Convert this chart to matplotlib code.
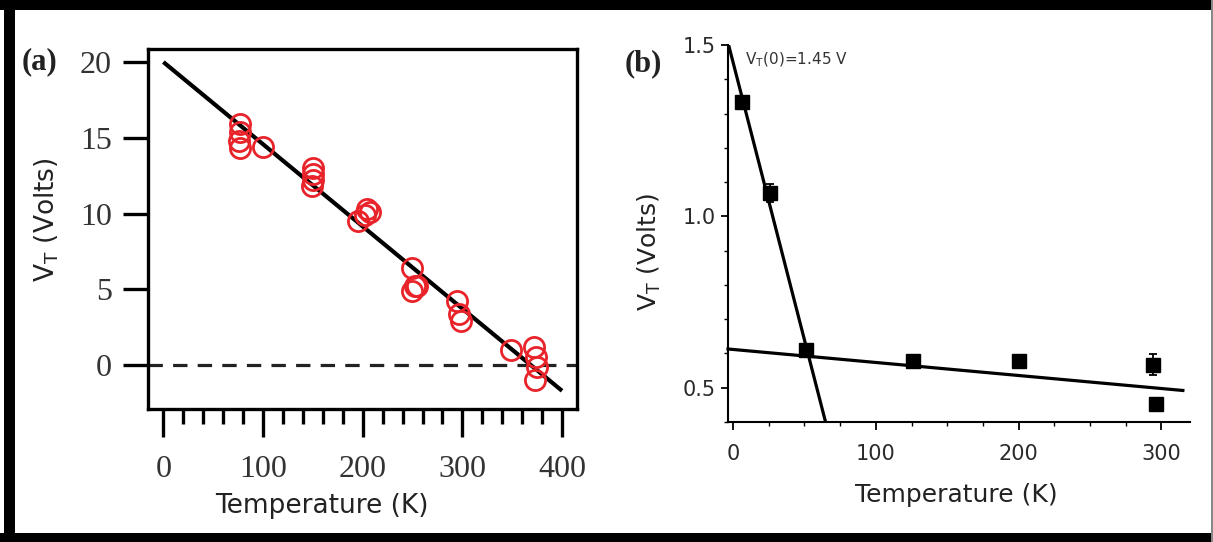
import matplotlib
matplotlib.use("Agg")
import matplotlib.pyplot as plt
from matplotlib.patches import Rectangle
from matplotlib.ticker import MultipleLocator

# ---- data panel (a) ----
temp_a = [77, 77, 76, 77, 100, 150, 150, 150, 149, 204, 207, 202, 195,
          249, 252, 249, 254, 295, 297, 299, 349, 372, 374, 375, 373]
vt_a = [15.9, 15.4, 14.8, 14.3, 14.4, 13.0, 12.6, 12.2, 11.8, 10.3, 10.1, 9.9, 9.5,
        6.4, 5.2, 4.9, 5.2, 4.2, 3.4, 2.9, 1.0, 1.2, 0.5, -0.1, -1.0]
fit_a_T = [0, 400]
fit_a_V = [20.0, -1.7]
xticks_a = [0, 100, 200, 300, 400]
yticks_a = [0, 5, 10, 15, 20]

# ---- data panel (b) ----
temp_b = [6, 26, 51, 126, 200, 294, 296]
vt_b = [1.335, 1.068, 0.609, 0.577, 0.577, 0.567, 0.453]
err_b = [0.015, 0.025, 0.012, 0.012, 0.010, 0.030, 0.0]
fit_b1_T = [-3.5, 70]
fit_b1_V = [1.507, 0.316]
fit_b2_T = [-3.5, 315]
fit_b2_V = [0.613, 0.492]
xticks_b = [0, 100, 200, 300]
yticks_b = [0.5, 1.0, 1.5]

W, H = 1213, 542
fig = plt.figure(figsize=(W / 100, H / 100), dpi=100)

def ax_rect(l, r, t, b):
    return [l / W, 1 - b / H, (r - l) / W, (b - t) / H]

# outer border
fig.patches.append(Rectangle((0, 1 - 10 / H), 1, 10 / H, transform=fig.transFigure,
                             facecolor="black", edgecolor="none"))
fig.patches.append(Rectangle((4 / W, 0), 11 / W, 1, transform=fig.transFigure,
                             facecolor="black", edgecolor="none"))
fig.patches.append(Rectangle((0, 0), 1, 9 / H, transform=fig.transFigure,
                             facecolor="black", edgecolor="none"))
fig.patches.append(Rectangle((1 - 2 / W, 0), 2 / W, 1, transform=fig.transFigure,
                             facecolor="#888888", edgecolor="none"))

# ---------------- panel (a) ----------------
AL, AR, AT, AB = 148, 577, 49, 409
axa = fig.add_axes(ax_rect(AL, AR, AT, AB))
axa.set_xlim(-15.4, 415)
axa.set_ylim(-2.9, 20.86)
axa.plot(fit_a_T, fit_a_V, color="black", lw=3.0, solid_capstyle="butt", zorder=3)
axa.axhline(0, color="#222222", lw=2.3, dashes=(4.5, 3.2), zorder=2)
axa.plot(temp_a, vt_a, linestyle="none", marker="o", ms=14.5, mfc="none",
         mec="#e8242a", mew=2.0, zorder=4)
for s in axa.spines.values():
    s.set_linewidth(2.4)
axa.set_xticks(xticks_a)
axa.xaxis.set_minor_locator(MultipleLocator(20))
axa.set_yticks(yticks_a)
serif = "Liberation Serif"
axa.set_xticklabels([str(v) for v in xticks_a], fontfamily=serif, fontsize=23, color="#333333")
axa.set_yticklabels([str(v) for v in yticks_a], fontfamily=serif, fontsize=23, color="#333333")
axa.tick_params(axis="x", which="major", direction="out", length=20, width=2.4, pad=13)
axa.tick_params(axis="x", which="minor", direction="out", length=11, width=2.4)
axa.tick_params(axis="y", which="major", direction="out", length=18, width=2.4, pad=8)
axa.set_xlabel("Temperature (K)", fontsize=19, color="#222222")
axa.set_ylabel(r"V$_\mathregular{T}$ (Volts)", fontsize=19, color="#222222")
axa.xaxis.set_label_coords((322 - AL) / (AR - AL), -(493 - AB) / (AB - AT))
axa.yaxis.set_label_coords(-(AL - 61) / (AR - AL), 1 - (220 - AT) / (AB - AT))
fig.text(22 / W, 1 - 62 / H, "(a)", fontfamily=serif, fontweight="bold",
         fontsize=22, color="#222222", ha="left", va="center")

# ---------------- panel (b) ----------------
BL, BR, BT, BB = 728, 1190, 45, 422
axb = fig.add_axes(ax_rect(BL, BR, BT, BB))
axb.set_xlim(-3.5, 320)
axb.set_ylim(0.4, 1.5)
axb.plot(fit_b1_T, fit_b1_V, color="black", lw=2.3, zorder=3)
axb.plot(fit_b2_T, fit_b2_V, color="black", lw=2.3, zorder=3, clip_on=False)
axb.errorbar(temp_b, vt_b, yerr=err_b, fmt="s", ms=9.5, color="black",
             ecolor="black", elinewidth=1.3, capsize=3, capthick=1.3, zorder=4)
axb.spines["top"].set_visible(False)
axb.spines["right"].set_visible(False)
for s in ("left", "bottom"):
    axb.spines[s].set_linewidth(1.5)
axb.set_xticks(xticks_b)
axb.xaxis.set_minor_locator(MultipleLocator(25))
axb.set_yticks(yticks_b)
axb.yaxis.set_minor_locator(MultipleLocator(0.1))
axb.set_xticklabels([str(v) for v in xticks_b], fontsize=15, color="#2a2a2a")
axb.set_yticklabels([f"{v:.1f}" for v in yticks_b], fontsize=15, color="#2a2a2a")
axb.tick_params(axis="x", which="major", direction="out", length=6, width=1.3, pad=10)
axb.tick_params(axis="x", which="minor", direction="out", length=3, width=1.0)
axb.tick_params(axis="y", which="major", direction="out", length=5, width=1.3, pad=4)
axb.tick_params(axis="y", which="minor", direction="out", length=3, width=1.0)
axb.set_xlabel("Temperature (K)", fontsize=18, color="#222222")
axb.set_ylabel(r"V$_\mathregular{T}$ (Volts)", fontsize=18, color="#222222")
axb.xaxis.set_label_coords((956 - BL) / (BR - BL), -(483 - BB) / (BB - BT))
axb.yaxis.set_label_coords(-(BL - 663) / (BR - BL), 1 - (252 - BT) / (BB - BT))
fig.text(745 / W, 1 - 60 / H, r"V$_\mathregular{T}$(0)=1.45 V", fontsize=11,
         color="#333333", ha="left", va="center")
fig.text(625 / W, 1 - 64 / H, "(b)", fontfamily=serif, fontweight="bold",
         fontsize=22, color="#222222", ha="left", va="center")

fig.savefig("out.png", dpi=100)
